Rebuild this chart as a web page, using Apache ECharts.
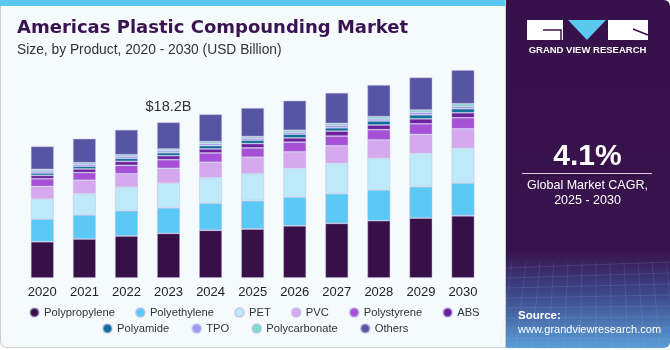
<!DOCTYPE html>
<html>
<head>
<meta charset="utf-8">
<script src="https://cdn.jsdelivr.net/npm/echarts@6/dist/echarts.min.js"></script>
<style>
  html, body { margin: 0; padding: 0; background: #ffffff; }
  #chart { width: 670px; height: 350px; }
</style>
</head>
<body>
<div id="chart"></div>
<script>
// Americas plastic compounding market, USD billion, by product

const years = ['2020', '2021', '2022', '2023', '2024', '2025', '2026', '2027', '2028', '2029', '2030'];

const polypropylene = [4.24, 4.56, 4.91, 5.22, 5.58, 5.73, 6.11, 6.39, 6.70, 7.01, 7.28];
const polyethylene  = [2.65, 2.81, 2.96, 2.99, 3.16, 3.31, 3.35, 3.46, 3.59, 3.66, 3.82];
const pet           = [2.37, 2.49, 2.77, 2.89, 2.99, 3.16, 3.35, 3.55, 3.71, 3.90, 4.06];
const pvc           = [1.45, 1.57, 1.55, 1.72, 1.80, 1.92, 1.94, 2.06, 2.14, 2.22, 2.29];
const polystyrene   = [0.89, 0.89, 0.98, 1.01, 1.09, 1.09, 1.13, 1.13, 1.20, 1.24, 1.29];
const abs           = [0.40, 0.43, 0.47, 0.47, 0.47, 0.50, 0.50, 0.58, 0.55, 0.58, 0.58];
const polyamide     = [0.27, 0.31, 0.35, 0.35, 0.39, 0.40, 0.43, 0.39, 0.47, 0.47, 0.47];
const tpo           = [0.23, 0.23, 0.23, 0.23, 0.23, 0.23, 0.23, 0.28, 0.23, 0.28, 0.28];
const polycarbonate = [0.20, 0.19, 0.19, 0.20, 0.23, 0.19, 0.23, 0.23, 0.27, 0.27, 0.30];
const others        = [2.69, 2.81, 2.92, 3.12, 3.20, 3.35, 3.47, 3.58, 3.71, 3.82, 3.94];

const seriesNames = ['Polypropylene', 'Polyethylene', 'PET', 'PVC', 'Polystyrene', 'ABS',
                     'Polyamide', 'TPO', 'Polycarbonate', 'Others'];
const seriesData = [polypropylene, polyethylene, pet, pvc, polystyrene, abs,
                    polyamide, tpo, polycarbonate, others];
const colors = ['#371047', '#5bc9f5', '#bde9f9', '#d6a9ee', '#a550d7', '#6d1f9d',
                '#0f6e99', '#9c9cf6', '#78ddcc', '#5655a4'];

// callout shown above one bar
const calloutIndex = 3;
const calloutText = '$18.2B';

const chart = echarts.init(document.getElementById('chart'));

const series = seriesNames.map((name, i) => ({
    name: name,
    type: 'bar',
    stack: 'total',
    barWidth: 23,
    data: seriesData[i].map((v, j) => {
        if (i === seriesNames.length - 1 && j === calloutIndex) {
            return {
                value: v,
                label: {
                    show: true,
                    position: 'top',
                    distance: 8,
                    formatter: calloutText,
                    fontSize: 14.5,
                    color: '#333333',
                    fontFamily: 'Liberation Sans'
                }
            };
        }
        return v;
    }),
    itemStyle: {
        color: colors[i],
        borderColor: 'rgba(190,185,225,0.55)',
        borderWidth: 0.8
    },
    emphasis: { disabled: true }
}));

const legendText = { fontSize: 11.2, color: '#333333', fontFamily: 'Liberation Sans' };

// faint mesh lines at the bottom of the right panel
const meshLines = [];
for (let k = 0; k < 9; k++) {
    meshLines.push({ type: 'line', silent: true,
        shape: { x1: 506, y1: 268 + k * 10, x2: 670, y2: 262 + k * 11 },
        style: { stroke: 'rgba(170,200,240,0.18)', lineWidth: 0.8 } });
}
for (let k = 0; k < 12; k++) {
    meshLines.push({ type: 'line', silent: true,
        shape: { x1: 512 + k * 14, y1: 262, x2: 500 + k * 16, y2: 348 },
        style: { stroke: 'rgba(170,200,240,0.15)', lineWidth: 0.8 } });
}

const option = {
    animation: false,
    color: colors,
    graphic: [
        // left panel
        { type: 'rect', shape: { x: 0.5, y: 0, width: 505, height: 347.5, r: [0, 0, 0, 6] },
          style: { fill: '#f5fafd', stroke: '#cccccc', lineWidth: 1 }, z: -10 },
        { type: 'rect', shape: { x: 0, y: 0, width: 505, height: 6 },
          style: { fill: '#5bc8f0' }, z: -9 },
        // right panel
        { type: 'rect', shape: { x: 506, y: 0, width: 164, height: 348, r: [0, 6, 6, 0] },
          style: {
              fill: new echarts.graphic.LinearGradient(0, 0, 0, 1, [
                  { offset: 0, color: '#37114a' },
                  { offset: 0.72, color: '#37134c' },
                  { offset: 0.85, color: '#3d4a8c' },
                  { offset: 1, color: '#5a9ed6' }
              ])
          }, z: -9 },
        ...meshLines,
        // logo
        { type: 'rect', shape: { x: 527, y: 20, width: 36, height: 20 }, style: { fill: '#ffffff' } },
        { type: 'polyline', shape: { points: [[543, 30], [561, 30], [561, 40]] },
          style: { stroke: '#37114a', lineWidth: 1.5, fill: null } },
        { type: 'polygon', shape: { points: [[568, 20], [606, 20], [587, 40]] }, style: { fill: '#5bc8f0' } },
        { type: 'rect', shape: { x: 608, y: 20, width: 40, height: 20 }, style: { fill: '#ffffff' } },
        { type: 'line', shape: { x1: 633, y1: 29, x2: 648, y2: 35 },
          style: { stroke: '#37114a', lineWidth: 1.5 } },
        { type: 'text', x: 587.5, y: 50,
          style: { text: 'GRAND VIEW RESEARCH', fill: '#ffffff', font: 'bold 9.5px "Liberation Sans"',
                   textAlign: 'center', textVerticalAlign: 'middle' } },
        // CAGR block
        { type: 'text', x: 587.5, y: 157,
          style: { text: '4.1%', fill: '#ffffff', font: 'bold 30px "Liberation Sans"',
                   textAlign: 'center', textVerticalAlign: 'middle' } },
        { type: 'line', shape: { x1: 522, y1: 173.5, x2: 652, y2: 173.5 },
          style: { stroke: '#d8d0e0', lineWidth: 1 } },
        { type: 'text', x: 587.5, y: 186,
          style: { text: 'Global Market CAGR,', fill: '#ffffff', font: '12.5px "Liberation Sans"',
                   textAlign: 'center', textVerticalAlign: 'middle' } },
        { type: 'text', x: 587.5, y: 201,
          style: { text: '2025 - 2030', fill: '#ffffff', font: '12.5px "Liberation Sans"',
                   textAlign: 'center', textVerticalAlign: 'middle' } },
        // source
        { type: 'text', x: 518, y: 316,
          style: { text: 'Source:', fill: '#ffffff', font: 'bold 11.5px "Liberation Sans"',
                   textVerticalAlign: 'middle' } },
        { type: 'text', x: 518, y: 330,
          style: { text: 'www.grandviewresearch.com', fill: '#ffffff', font: '11px "Liberation Sans"',
                   textVerticalAlign: 'middle' } },
        // title
        { type: 'text', x: 17, y: 28,
          style: { text: 'Americas Plastic Compounding Market', fill: '#3a1450',
                   font: 'bold 18px "DejaVu Sans"', textVerticalAlign: 'middle' } },
        { type: 'text', x: 17, y: 50,
          style: { text: 'Size, by Product, 2020 - 2030 (USD Billion)', fill: '#333333',
                   font: '13.8px "Liberation Sans"', textVerticalAlign: 'middle' } }
    ],
    legend: [
        { data: seriesNames.slice(0, 6), left: 29, top: 307, icon: 'circle', padding: 0,
          itemWidth: 9, itemHeight: 9, itemGap: 20, textStyle: legendText, selectedMode: false },
        { data: seriesNames.slice(6), left: 102, top: 323, icon: 'circle', padding: 0,
          itemWidth: 9, itemHeight: 9, itemGap: 22, textStyle: legendText, selectedMode: false }
    ],
    grid: { left: 21.3, right: 186, top: 55.6, bottom: 72, containLabel: false },
    xAxis: {
        type: 'category',
        data: years,
        axisLine: { show: false },
        axisTick: { show: false },
        axisLabel: { color: '#222222', fontSize: 13, margin: 8, fontFamily: 'Liberation Sans' }
    },
    yAxis: {
        type: 'value',
        min: 0,
        max: 26,
        show: false,
        splitLine: { show: false }
    },
    series: series
};

chart.setOption(option);
</script>
</body>
</html>
